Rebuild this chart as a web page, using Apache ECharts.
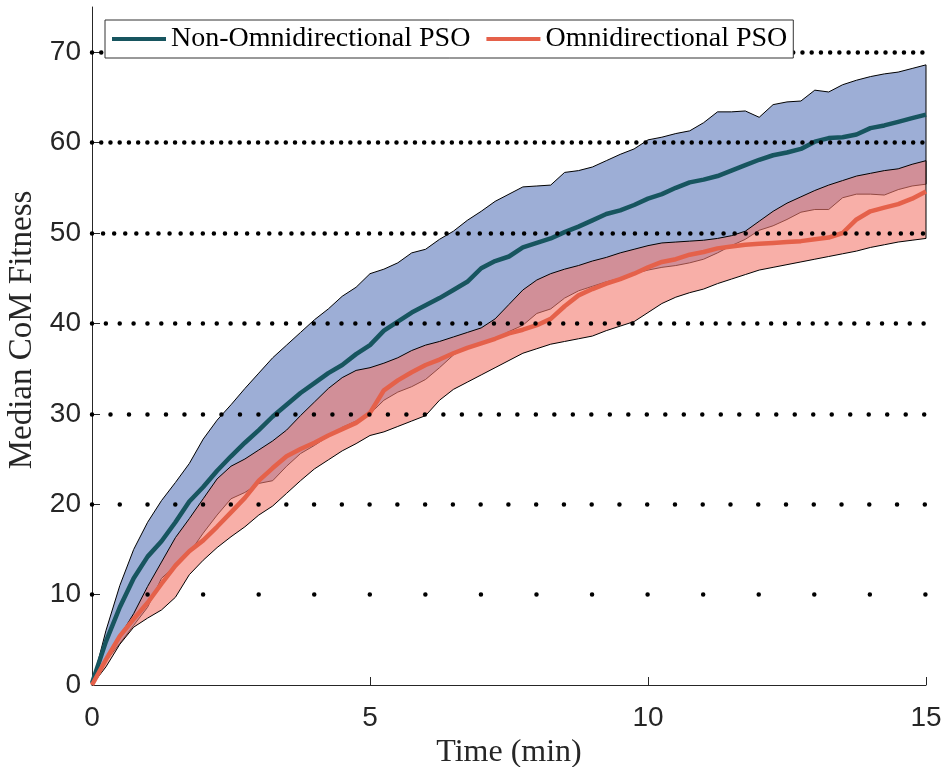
<!DOCTYPE html>
<html>
<head>
<meta charset="utf-8">
<script src="https://cdn.jsdelivr.net/npm/echarts@6/dist/echarts.min.js"></script>
<style>html,body{margin:0;padding:0;background:#fff}#c{width:945px;height:767px}</style>
</head>
<body>
<div id="c"></div>
<script>
// ---- data (time in minutes) ----
var time = [0,0.25,0.5,0.75,1,1.25,1.5,1.75,2,2.25,2.5,2.75,3,3.25,3.5,3.75,4,4.25,4.5,4.75,5,5.25,5.5,5.75,6,6.25,6.5,6.75,7,7.25,7.5,7.75,8,8.25,8.5,8.75,9,9.25,9.5,9.75,10,10.25,10.5,10.75,11,11.25,11.5,11.75,12,12.25,12.5,12.75,13,13.25,13.5,13.75,14,14.25,14.5,14.75,15];

// Non-Omnidirectional PSO
var nonOmniMedian = [0.2,4.8,8.6,11.8,14.2,15.9,18.0,20.3,21.9,23.7,25.3,26.8,28.2,29.7,31.0,32.3,33.4,34.5,35.4,36.6,37.6,39.2,40.2,41.2,42.0,42.8,43.7,44.6,46.1,46.9,47.4,48.4,48.9,49.4,50.1,50.7,51.4,52.1,52.5,53.1,53.8,54.3,55.0,55.6,55.9,56.3,56.9,57.5,58.1,58.6,58.9,59.3,60.1,60.5,60.6,60.9,61.6,61.9,62.3,62.7,63.1];
var nonOmniUpper = [0,6.0,11.0,15.0,18.0,20.4,22.4,24.5,27.2,29.3,31.0,32.8,34.5,36.2,37.6,39.0,40.4,41.6,43.0,44.0,45.5,46.0,46.7,47.8,48.2,49.3,50.2,51.4,52.4,53.5,54.3,55.1,55.2,55.3,56.7,56.9,57.3,58.0,58.7,59.3,60.3,60.6,61.0,61.3,62.2,63.4,63.4,63.5,62.8,64.2,64.5,64.6,65.8,65.6,66.4,66.9,67.3,67.6,67.8,68.2,68.6];
var nonOmniLower = [0,2.6,4.6,6.6,8.6,11.8,13.2,14.6,16.8,18.8,20.6,21.3,22.3,22.6,24.2,25.6,26.5,27.5,28.5,29.2,30.0,31.5,32.4,33.0,33.8,35.1,36.5,37.4,37.7,38.3,39.1,39.8,41.1,41.6,42.8,43.6,44.1,44.6,45.0,45.5,45.9,46.2,46.4,46.7,47.1,47.8,48.6,49.3,50.3,50.8,51.5,52.3,52.6,52.6,53.9,54.3,54.3,54.2,54.8,55.2,55.4];

// Omnidirectional PSO
var omniMedian = [0,2.8,5.4,7.3,9.1,11.2,13.2,14.8,16.0,17.5,19.1,20.7,22.6,24.0,25.3,26.1,26.8,27.6,28.3,29.0,30.1,32.6,33.7,34.6,35.4,36.0,36.7,37.3,37.8,38.3,38.9,39.3,39.8,40.5,41.9,43.1,43.8,44.4,44.9,45.5,46.2,46.8,47.1,47.6,47.9,48.3,48.5,48.7,48.8,48.9,49.0,49.1,49.3,49.5,50.0,51.5,52.4,52.8,53.2,53.8,54.6];
var omniUpper = [0,2.8,5.4,7.9,10.9,13.6,16.3,18.4,20.6,22.8,24.2,25.0,26.0,27.0,28.2,29.8,31.3,32.8,34.0,34.8,35.1,35.6,36.2,37.0,37.6,38.0,38.5,39.0,39.5,40.5,42.1,43.7,44.8,45.5,46.0,46.4,46.9,47.3,47.8,48.2,48.6,48.9,49.0,49.1,49.2,49.4,49.7,50.2,51.3,52.4,53.3,54.0,54.7,55.3,55.8,56.3,56.6,56.9,57.1,57.6,58.0];
var omniLower = [0,2.0,4.5,6.4,7.4,8.3,9.7,12.2,13.8,15.2,16.4,17.5,18.8,19.8,21.2,22.6,23.9,24.9,25.9,26.7,27.6,28.0,28.6,29.2,29.8,31.5,32.7,33.5,34.3,35.1,35.9,36.7,37.2,37.7,38.0,38.3,38.6,39.2,39.7,40.2,41.2,42.2,42.9,43.4,43.8,44.4,44.9,45.4,45.9,46.2,46.5,46.8,47.1,47.4,47.7,48.0,48.4,48.7,49.0,49.2,49.4];

var seriesNames = ['Non-Omnidirectional PSO', 'Omnidirectional PSO'];
var yTicks = [0,10,20,30,40,50,60,70];
var xTicks = [0,5,10,15];
var gridLevels = [10,20,30,40,50,60,70];
var dotsPerMinute = [1,2,3,4,5,6,6];

// ---- rendering ----
var chart = echarts.init(document.getElementById('c'), null, {renderer:'canvas'});
var pxPerMin = (945 - 92 - 19) / 15;

function pairs(xs, ys){ return xs.map(function(x,i){ return [x, ys[i]]; }); }

function bandSeries(upper, lower, fill, z){
  return {
    type: 'custom', z: z, silent: true, data: [[0, 0]],
    renderItem: function(params, api){
      var pts = [];
      for (var i = 0; i < time.length; i++) pts.push(api.coord([time[i], upper[i]]));
      for (var j = time.length - 1; j >= 0; j--) pts.push(api.coord([time[j], lower[j]]));
      return {type: 'polygon', shape: {points: pts}, style: {fill: fill, stroke: '#000', lineWidth: 1}};
    }
  };
}

var dotLines = gridLevels.map(function(lv, i){
  return {yAxis: lv, lineStyle: {color: '#000', width: 4.5, type: [0.01, pxPerMin / dotsPerMinute[i] - 0.05], cap: 'round', opacity: 1}};
});

var option = {
  backgroundColor: '#fff',
  animation: false,
  grid: {left: 92, right: 19, top: 7, bottom: 82, containLabel: false, outerBoundsMode: 'none'},
  xAxis: {
    type: 'value', min: 0, max: 15, interval: 5,
    name: 'Time (min)', nameLocation: 'middle', nameGap: 42,
    nameTextStyle: {fontFamily: 'Liberation Serif', fontSize: 32, color: '#262626'},
    axisLine: {show: true, onZero: false, lineStyle: {color: '#262626', width: 1}},
    axisTick: {show: true, inside: true, length: 8, lineStyle: {color: '#262626'}},
    axisLabel: {fontFamily: 'Liberation Sans', fontSize: 28, color: '#262626', margin: 19, customValues: xTicks},
    splitLine: {show: false}
  },
  yAxis: {
    type: 'value', min: 0, max: 75, interval: 10,
    axisLine: {show: true, onZero: false, lineStyle: {color: '#262626', width: 1}},
    axisTick: {show: true, inside: true, length: 8, customValues: yTicks, lineStyle: {color: '#262626'}},
    axisLabel: {fontFamily: 'Liberation Sans', fontSize: 28, color: '#262626', margin: 11, customValues: yTicks},
    splitLine: {show: false}
  },
  legend: {
    data: seriesNames, left: 105, top: 20, z: 20,
    orient: 'horizontal', icon: 'rect', itemWidth: 54, itemHeight: 4, itemGap: 16,
    padding: [5, 6, 5, 7], backgroundColor: '#fff', borderColor: '#333', borderWidth: 1,
    textStyle: {fontFamily: 'Liberation Serif', fontSize: 28, color: '#000'}
  },
  graphic: [{
    type: 'text', x: 22, y: 330, rotation: Math.PI / 2, z: 10,
    style: {text: 'Median CoM Fitness', font: '33px "Liberation Serif"', fill: '#262626',
            textAlign: 'center', textVerticalAlign: 'middle', align: 'center', verticalAlign: 'middle'}
  }],
  series: [
    bandSeries(nonOmniUpper, nonOmniLower, '#9DAED6', 1),
    bandSeries(omniUpper, omniLower, 'rgba(243,122,110,0.6)', 2),
    {
      name: seriesNames[0], type: 'line', z: 3, showSymbol: false, symbol: 'none',
      data: pairs(time, nonOmniMedian),
      lineStyle: {color: '#17555F', width: 4.5}, itemStyle: {color: '#17555F'}
    },
    {
      name: seriesNames[1], type: 'line', z: 3, showSymbol: false, symbol: 'none',
      data: pairs(time, omniMedian),
      lineStyle: {color: '#E5614A', width: 4.5}, itemStyle: {color: '#E5614A'}
    },
    {
      type: 'line', z: 5, data: [], silent: true,
      markLine: {silent: true, symbol: 'none', animation: false, label: {show: false}, data: dotLines}
    }
  ]
};
chart.setOption(option);
</script>
</body>
</html>
